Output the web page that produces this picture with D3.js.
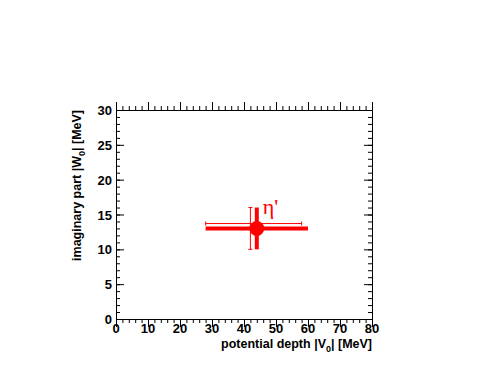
<!DOCTYPE html>
<html>
<head>
<meta charset="utf-8">
<script src="https://cdn.jsdelivr.net/npm/d3@7"></script>
<style>
  body { margin: 0; background: #fff; }
  text { font-family: "Liberation Sans", Arial, sans-serif; font-weight: bold; }
</style>
</head>
<body>
<div id="chart"></div>
<script>
// data: measured point (stat errors) and systematic band
const pointX = [44];
const pointY = [13];
const pointXErr = [16];
const pointYErr = [3];
const sysX = [42];
const sysY = [13.7];
const sysXRange = [[28, 58]];
const sysYRange = [[10, 16]];
const pointLabel = ["η'"];

const xTicks = [0, 10, 20, 30, 40, 50, 60, 70, 80];
const yTicks = [0, 5, 10, 15, 20, 25, 30];

const width = 491, height = 368;
const margin = { left: 116, right: 119, top: 110, bottom: 49 };
const red = "#ff0000";

const svg = d3.select("#chart").append("svg")
  .attr("width", width).attr("height", height);

const x = d3.scaleLinear().domain([0, 80]).range([margin.left, width - margin.right]);
const y = d3.scaleLinear().domain([0, 30]).range([height - margin.bottom, margin.top]);

// minor + major ticks on all four sides
const xMinor = d3.range(0, 81, 2);
const yMinor = d3.range(0, 31, 1);

const axisStyle = g => {
  g.selectAll("path").attr("stroke", "#000").attr("stroke-width", 1);
  g.selectAll("line").attr("stroke", "#000");
};

function drawAxis(axis, tx, ty) {
  svg.append("g").attr("transform", `translate(${tx},${ty})`).call(axis).call(axisStyle);
}

const bottomY = y(0), topY = y(30), leftX = x(0), rightX = x(80);

drawAxis(d3.axisTop(x).tickValues(xMinor).tickSize(-4).tickFormat("").tickSizeOuter(0), 0, bottomY);
drawAxis(d3.axisTop(x).tickValues(xTicks).tickSize(-8).tickFormat("").tickSizeOuter(0), 0, bottomY);
drawAxis(d3.axisBottom(x).tickValues(xMinor).tickSize(-4).tickFormat("").tickSizeOuter(0), 0, topY);
drawAxis(d3.axisBottom(x).tickValues(xTicks).tickSize(-8).tickFormat("").tickSizeOuter(0), 0, topY);
drawAxis(d3.axisLeft(y).tickValues(yMinor).tickSize(-4).tickFormat("").tickSizeOuter(0), leftX, 0);
drawAxis(d3.axisLeft(y).tickValues(yTicks).tickSize(-8).tickFormat("").tickSizeOuter(0), leftX, 0);
drawAxis(d3.axisRight(y).tickValues(yMinor).tickSize(-4).tickFormat("").tickSizeOuter(0), rightX, 0);
drawAxis(d3.axisRight(y).tickValues(yTicks).tickSize(-8).tickFormat("").tickSizeOuter(0), rightX, 0);

// tick labels
svg.append("g").selectAll("text").data(xTicks).join("text")
  .attr("x", d => x(d)).attr("y", bottomY + 14)
  .attr("text-anchor", "middle").attr("font-size", 13).text(d => d);
svg.append("g").selectAll("text").data(yTicks).join("text")
  .attr("x", leftX - 4).attr("y", d => y(d) + 5)
  .attr("text-anchor", "end").attr("font-size", 13).text(d => d);

// axis titles
const xt = svg.append("text")
  .attr("x", rightX).attr("y", bottomY + 29)
  .attr("text-anchor", "end").attr("font-size", 12.5);
xt.append("tspan").text("potential depth |V");
xt.append("tspan").attr("font-size", 9).attr("dy", 4).text("0");
xt.append("tspan").attr("dy", -4).text("| [MeV]");

const yt = svg.append("text")
  .attr("transform", `translate(${leftX - 35},${topY}) rotate(-90)`)
  .attr("text-anchor", "end").attr("font-size", 12.5);
yt.append("tspan").text("imaginary part |W");
yt.append("tspan").attr("font-size", 9).attr("dy", 4).text("0");
yt.append("tspan").attr("dy", -4).text("| [MeV]");

// systematic error bars (thin, capped)
const sys = svg.append("g").attr("stroke", red).attr("stroke-width", 1);
sysX.forEach((sx, i) => {
  const [x0, x1] = sysXRange[i], [y0, y1] = sysYRange[i];
  sys.append("line").attr("x1", x(x0)).attr("x2", x(x1)).attr("y1", y(sysY[i])).attr("y2", y(sysY[i]));
  sys.append("line").attr("x1", x(x0)).attr("x2", x(x0)).attr("y1", y(sysY[i]) - 2).attr("y2", y(sysY[i]) + 2);
  sys.append("line").attr("x1", x(x1)).attr("x2", x(x1)).attr("y1", y(sysY[i]) - 2).attr("y2", y(sysY[i]) + 2);
  sys.append("line").attr("x1", x(sx)).attr("x2", x(sx)).attr("y1", y(y0)).attr("y2", y(y1));
  sys.append("line").attr("x1", x(sx) - 2).attr("x2", x(sx) + 2).attr("y1", y(y0)).attr("y2", y(y0));
  sys.append("line").attr("x1", x(sx) - 2).attr("x2", x(sx) + 2).attr("y1", y(y1)).attr("y2", y(y1));
});

// statistical error bars (thick) + marker
const pts = svg.append("g");
pointX.forEach((px, i) => {
  pts.append("line").attr("stroke", red).attr("stroke-width", 4)
    .attr("x1", x(px - pointXErr[i])).attr("x2", x(px + pointXErr[i]))
    .attr("y1", y(pointY[i])).attr("y2", y(pointY[i]));
  pts.append("line").attr("stroke", red).attr("stroke-width", 4)
    .attr("x1", x(px)).attr("x2", x(px))
    .attr("y1", y(pointY[i] - pointYErr[i])).attr("y2", y(pointY[i] + pointYErr[i]));
  pts.append("circle").attr("cx", x(px)).attr("cy", y(pointY[i])).attr("r", 7.5).attr("fill", red);
  pts.append("text").attr("x", x(px) + 6).attr("y", y(pointY[i]) - 14)
    .attr("fill", red).attr("font-size", 22)
    .style("font-family", "'Liberation Serif', 'DejaVu Serif', serif").style("font-weight", "normal")
    .text(pointLabel[i]);
});
</script>
</body>
</html>
